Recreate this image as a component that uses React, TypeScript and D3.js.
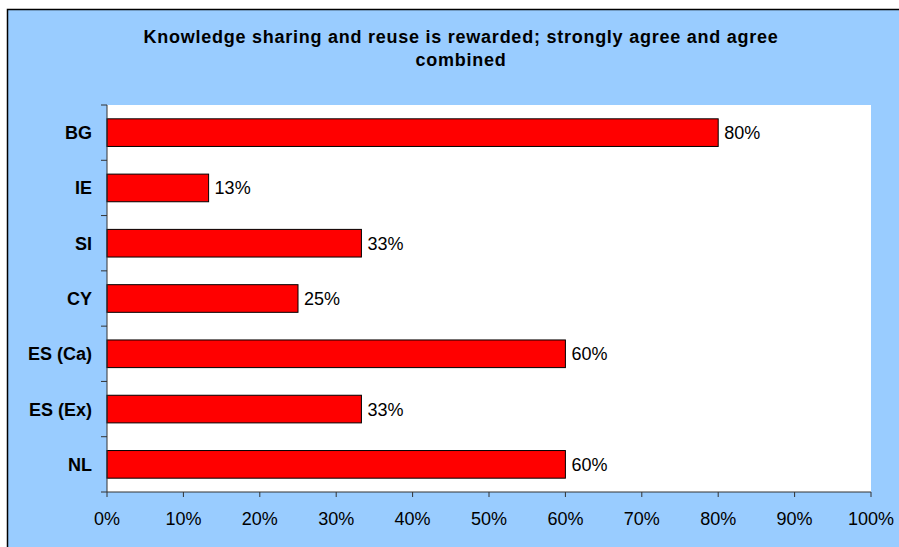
import React from "react";
import * as d3 from "d3";

const categories = ["BG", "IE", "SI", "CY", "ES (Ca)", "ES (Ex)", "NL"];
const values = [80, 13.3, 33.3, 25, 60, 33.3, 60];
const xTicks = [0, 10, 20, 30, 40, 50, 60, 70, 80, 90, 100];
const titleLines = ["Knowledge sharing and reuse is rewarded; strongly agree and agree", "combined"];

export default function App() {
  const W = 899, H = 547;
  const left = 107, right = 871, top = 105, bottom = 492;
  const x = d3.scaleLinear().domain([0, 100]).range([left, right]);
  const y = d3.scaleBand().domain(categories).range([top, bottom]).paddingInner(0.5).paddingOuter(0.25);
  const step = y.step();
  const font = "'Liberation Sans', Arial, sans-serif";
  return (
    <svg width={W} height={H} style={{ position: "absolute", left: 0, top: 0 }}>
      <rect x={0} y={0} width={W} height={H} fill="#fff" />
      <rect x={7.5} y={9.5} width={W + 10} height={H + 10} fill="#99CCFF" stroke="#000" strokeWidth={1.5} />
      {titleLines.map((t, i) => (
        <text key={i} x={461} y={43 + i * 23} textAnchor="middle" fontFamily={font} fontWeight="bold" fontSize={18} letterSpacing={0.75} fill="#000">{t}</text>
      ))}
      <rect x={left} y={top} width={right - left} height={bottom - top} fill="#fff" />
      {categories.map((c, i) => (
        <g key={c}>
          <rect x={x(0)} y={y(c)!} width={x(values[i]) - x(0)} height={y.bandwidth()} fill="#FF0000" stroke="#000" strokeWidth={1} />
          <text x={x(values[i]) + 6} y={y(c)! + y.bandwidth() / 2 + 6.5} fontFamily={font} fontSize={18} fill="#000">{Math.round(values[i])}%</text>
          <text x={92} y={y(c)! + y.bandwidth() / 2 + 6.5} textAnchor="end" fontFamily={font} fontWeight="bold" fontSize={18} fill="#000">{c}</text>
        </g>
      ))}
      <line x1={left} x2={left} y1={top} y2={bottom} stroke="#333" strokeWidth={1} />
      <line x1={left} x2={right} y1={bottom} y2={bottom} stroke="#333" strokeWidth={1} />
      {d3.range(categories.length + 1).map((i) => (
        <line key={i} x1={left - 6} x2={left} y1={top + i * step} y2={top + i * step} stroke="#333" strokeWidth={1} />
      ))}
      {xTicks.map((t) => (
        <g key={t}>
          <line x1={x(t)} x2={x(t)} y1={bottom} y2={bottom + 5} stroke="#333" strokeWidth={1} />
          <text x={x(t)} y={525} textAnchor="middle" fontFamily={font} fontSize={18} fill="#000">{t}%</text>
        </g>
      ))}
    </svg>
  );
}
